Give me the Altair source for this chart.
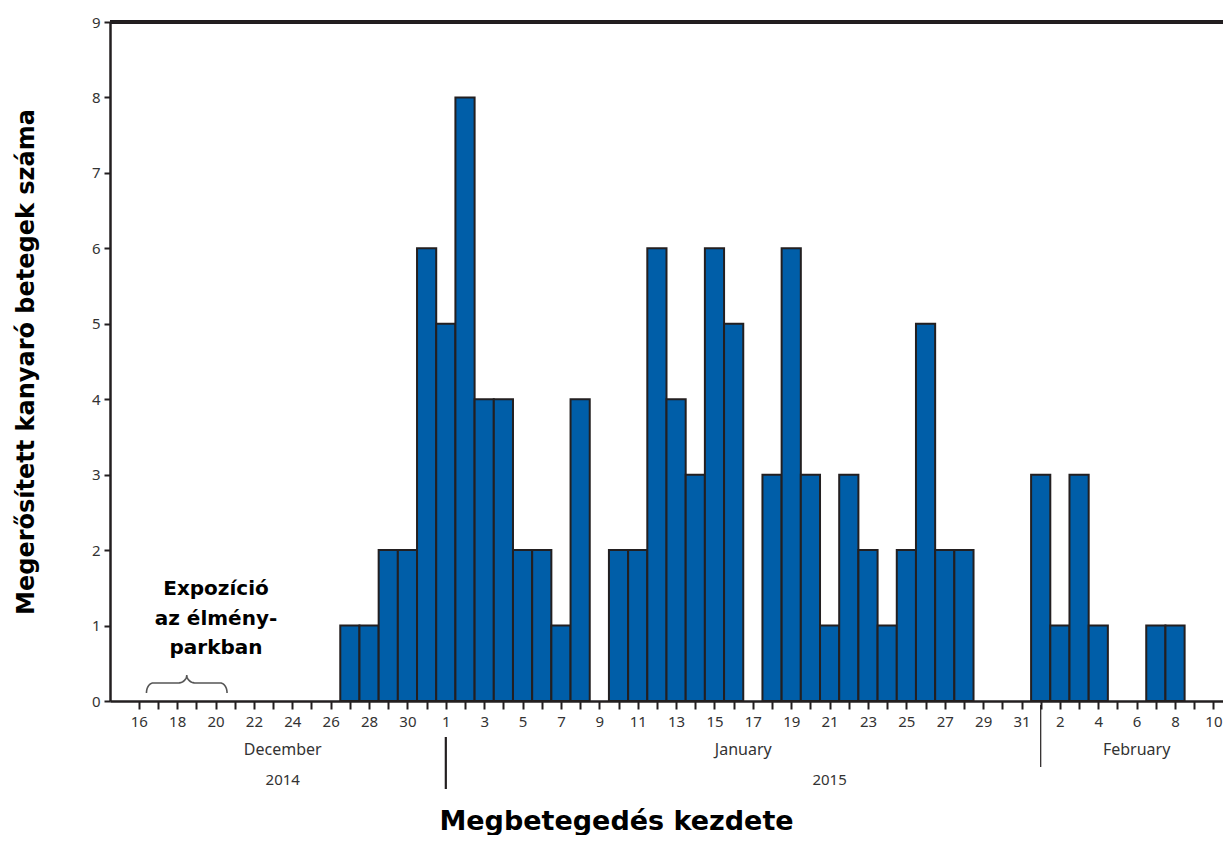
import altair as alt
import numpy as np
import pandas as pd

# ---------------- data ----------------
dates = [
    "2014-12-27", "2014-12-28", "2014-12-29", "2014-12-30", "2014-12-31",
    "2015-01-01", "2015-01-02", "2015-01-03", "2015-01-04", "2015-01-05",
    "2015-01-06", "2015-01-07", "2015-01-08", "2015-01-09", "2015-01-10",
    "2015-01-11", "2015-01-12", "2015-01-13", "2015-01-14", "2015-01-15",
    "2015-01-16", "2015-01-17", "2015-01-18", "2015-01-19", "2015-01-20",
    "2015-01-21", "2015-01-22", "2015-01-23", "2015-01-24", "2015-01-25",
    "2015-01-26", "2015-01-27", "2015-01-28", "2015-01-29", "2015-01-30",
    "2015-01-31", "2015-02-01", "2015-02-02", "2015-02-03", "2015-02-04",
    "2015-02-05", "2015-02-06", "2015-02-07", "2015-02-08",
]
cases = [
    1, 1, 2, 2, 6,
    5, 8, 4, 4, 2,
    2, 1, 4, 0, 2,
    2, 6, 4, 3, 6,
    5, 0, 3, 6, 3,
    1, 3, 2, 1, 2,
    5, 2, 2, 0, 0,
    0, 3, 1, 3, 1,
    0, 0, 1, 1,
]

month_labels = ["December", "January", "February"]
month_pos = [-8.5, 15.5, 36.0]          # day offsets from 2015-01-01
year_labels = ["2014", "2015"]
year_pos = [-8.5, 20.0]

exposure_first = "2014-12-17"
exposure_last = "2014-12-20"
annotation = "Expozíció\naz élmény-\nparkban"

y_title = "Megerősített kanyaró betegek száma"
x_title = "Megbetegedés kezdete"

REF = pd.Timestamp("2015-01-01")

# ---------------- tables ----------------
df = pd.DataFrame({"date": dates, "cases": cases})
df["day"] = (pd.to_datetime(df["date"]) - REF).dt.days
df["x0"] = df["day"] - 0.5
df["x1"] = df["day"] + 0.5

months = pd.DataFrame({"label": month_labels, "pos": month_pos})
years = pd.DataFrame({"label": year_labels, "pos": year_pos})

sep = pd.DataFrame({
    "day": [(pd.Timestamp("2015-01-01") - REF).days, (pd.Timestamp("2015-02-01") - REF).days],
    "ya": [715, 683],
    "yb": [767, 745],
    "w": [2.2, 1.2],
})

# brace under the exposure period
e0 = (pd.Timestamp(exposure_first) - REF).days - 0.6
e1 = (pd.Timestamp(exposure_last) - REF).days + 0.6
xm = (e0 + e1) / 2
y_end, y_arm, y_tip = 0.106, 0.239, 0.345
r1, r2 = 0.35, 0.45
t = np.linspace(0, np.pi / 2, 12)
lx = np.concatenate([e0 + r1 * (1 - np.cos(t)), xm - r2 + r2 * np.sin(t)])
ly = np.concatenate([y_end + (y_arm - y_end) * np.sin(t), y_tip - (y_tip - y_arm) * np.cos(t)])
bx = np.concatenate([lx, (2 * xm - lx)[::-1]])
by = np.concatenate([ly, ly[::-1]])
brace = pd.DataFrame({"bx": bx, "by": by, "o": np.arange(len(bx))})

# ---------------- chart ----------------
W, H = 1113, 679
INK = "#231f20"
LBL = "#333333"

xscale = alt.Scale(domain=[-17.5, 40.5], nice=False, zero=False)
yscale = alt.Scale(domain=[0, 9], nice=False)

label_expr = (
    "datum.value % 2 != 0 ? '' : (datum.value < 0 ? toString(datum.value + 32) : "
    "(datum.value <= 30 ? toString(datum.value + 1) : toString(datum.value - 30)))"
)

x_axis = alt.Axis(
    values=list(range(-16, 41)), labelExpr=label_expr, labelOverlap=False, labelFlush=False,
    labelBound=False,
    grid=False, domainColor=INK, domainWidth=2.5, tickColor=INK, tickWidth=2, tickSize=8,
    labelFont="Noto Sans", labelFontSize=15, labelColor=LBL, labelPadding=5,
    title=x_title, titleFont="DejaVu Sans", titleFontWeight="bold", titleFontSize=27,
    titleColor="black", titleX=506, titleY=128, titleAlign="center", titleBaseline="alphabetic",
    titleAnchor="start",
)
y_axis = alt.Axis(
    values=list(range(0, 10)), format="d", grid=False, domainColor=INK, domainWidth=2.5,
    tickColor=INK, tickWidth=2, tickSize=6, labelFont="Noto Sans", labelFontSize=15,
    labelColor=LBL, labelPadding=4, labelOverlap=False,
    title=y_title, titleFont="DejaVu Sans", titleFontWeight="bold", titleFontSize=24,
    titleColor="black", titleX=-77, titleY=H / 2, titleAngle=270, titleAlign="center",
    titleBaseline="alphabetic",
)

bars = alt.Chart(df).transform_filter("datum.cases > 0").mark_bar(
    fill="#005EA8", stroke=INK, strokeWidth=2
).encode(
    x=alt.X("x0:Q", scale=xscale, axis=x_axis),
    x2="x1:Q",
    y=alt.Y("cases:Q", scale=yscale, axis=y_axis),
    y2=alt.datum(0),
)

top_line = alt.Chart(df).mark_rule(color=INK, strokeWidth=2.5).encode(
    x=alt.value(0), x2=alt.value(W), y=alt.value(0)
)

month_text = alt.Chart(months).mark_text(
    font="Noto Sans", fontSize=16, color=LBL, baseline="middle"
).encode(x=alt.X("pos:Q", scale=xscale, axis=x_axis), y=alt.value(728), text="label:N")

year_text = alt.Chart(years).mark_text(
    font="Noto Sans", fontSize=15, color=LBL, baseline="middle"
).encode(x=alt.X("pos:Q", scale=xscale, axis=x_axis), y=alt.value(758), text="label:N")

sep_rules = alt.Chart(sep).mark_rule(color=INK).encode(
    x=alt.X("day:Q", scale=xscale, axis=x_axis),
    y=alt.Y("ya:Q", scale=None),
    y2="yb:Q",
    strokeWidth=alt.StrokeWidth("w:Q", scale=None, legend=None),
)

brace_line = alt.Chart(brace).mark_line(color="#555555", strokeWidth=1.6).encode(
    x=alt.X("bx:Q", scale=xscale, axis=x_axis),
    y=alt.Y("by:Q", scale=yscale, axis=y_axis),
    order="o:Q",
)

note = alt.Chart(pd.DataFrame({"t": [annotation]})).mark_text(
    font="DejaVu Sans", fontWeight="bold", fontSize=20, lineBreak="\n", lineHeight=29.5,
    align="center", baseline="middle", color="black"
).encode(x=alt.value(106), y=alt.value(567), text="t:N")

chart = alt.layer(
    bars, top_line, month_text, year_text, sep_rules, brace_line, note
).properties(
    width=W, height=H,
    autosize=alt.AutoSizeParams(type="none"),
    padding={"left": 102, "top": 14, "right": 0, "bottom": 134},
).configure_view(stroke=None).configure(background="white")

chart.save("out.html", embed_options={"renderer": "svg", "actions": False})
